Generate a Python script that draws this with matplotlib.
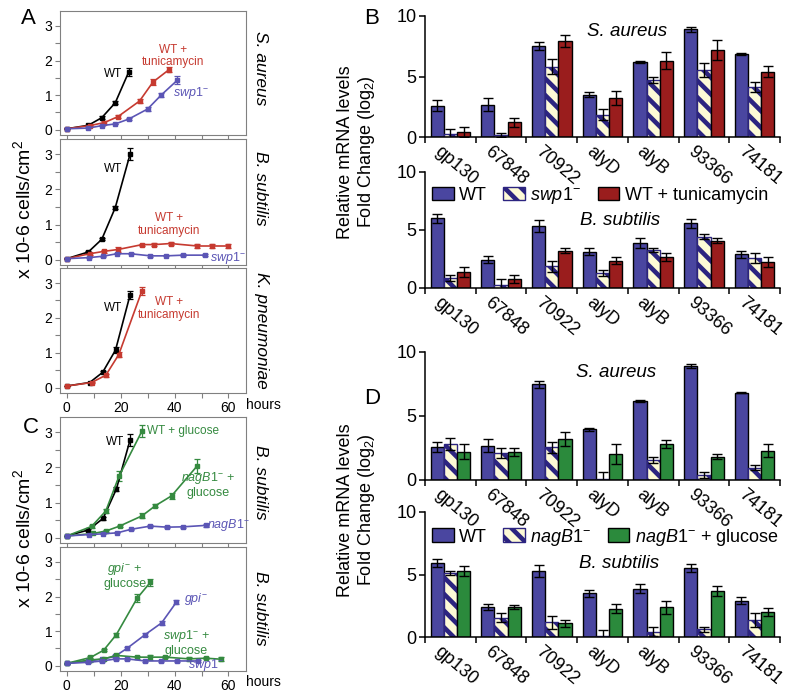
import matplotlib
matplotlib.use("Agg")
import matplotlib.pyplot as plt
import numpy as np

plt.rcParams["font.family"] = ["Liberation Sans", "DejaVu Sans"]
plt.rcParams["mathtext.fontset"] = "custom"
plt.rcParams["mathtext.rm"] = "Liberation Sans"
plt.rcParams["mathtext.it"] = "Liberation Sans:italic"
plt.rcParams["hatch.linewidth"] = 3.3

# ---- growth curves (hours, x 10-6 cells/cm2) ----
sa_wt_t = [0, 8, 13, 18, 23]
sa_wt = [0.03, 0.13, 0.35, 0.78, 1.67]
sa_wt_e = [0.01, 0.02, 0.04, 0.04, 0.12]
sa_tun_t = [0, 8.5, 14, 19, 27, 32, 38]
sa_tun = [0.03, 0.12, 0.21, 0.38, 0.83, 1.38, 1.74]
sa_tun_e = [0.01, 0.02, 0.03, 0.05, 0.05, 0.1, 0.06]
sa_swp_t = [0, 8, 13, 18, 23, 30, 35, 41]
sa_swp = [0.03, 0.05, 0.12, 0.17, 0.31, 0.6, 1.0, 1.43]
sa_swp_e = [0.01, 0.01, 0.01, 0.01, 0.03, 0.05, 0.06, 0.12]

bs_wt_t = [0, 8, 13, 18, 23.5]
bs_wt = [0.03, 0.22, 0.58, 1.48, 3.0]
bs_wt_e = [0.01, 0.02, 0.03, 0.05, 0.18]
bs_tun_t = [0, 8.5, 14, 19, 28, 32.5, 38.5, 48.5, 54, 60]
bs_tun = [0.03, 0.17, 0.24, 0.29, 0.43, 0.43, 0.46, 0.39, 0.39, 0.39]
bs_tun_e = [0.01, 0.03, 0.04, 0.08, 0.03, 0.05, 0.04, 0.07, 0.06, 0.07]
bs_swp_t = [0, 8.3, 13.5, 18.6, 23.7, 31, 37, 43.2, 51.2]
bs_swp = [0.03, 0.06, 0.1, 0.17, 0.17, 0.11, 0.11, 0.13, 0.13]
bs_swp_e = [0.01, 0.01, 0.01, 0.02, 0.02, 0.02, 0.01, 0.02, 0.02]

kp_wt_t = [0, 8.5, 13.3, 18.1, 23.5]
kp_wt = [0.05, 0.15, 0.44, 1.08, 2.66]
kp_wt_e = [0.01, 0.02, 0.03, 0.08, 0.12]
kp_tun_t = [0, 9.2, 14.5, 19.3, 27.9]
kp_tun = [0.05, 0.15, 0.36, 0.95, 2.78]
kp_tun_e = [0.01, 0.02, 0.04, 0.08, 0.12]

c_wt_t = [0, 8, 13.5, 18.4, 23.5]
c_wt = [0.05, 0.22, 0.55, 1.38, 2.78]
c_wt_e = [0.01, 0.02, 0.04, 0.05, 0.18]
c_wtg_t = [0, 9.2, 14.5, 19.4, 27.9]
c_wtg = [0.05, 0.32, 0.76, 1.75, 3.03]
c_wtg_e = [0.01, 0.03, 0.06, 0.15, 0.18]
c_nagg_t = [0, 9.8, 14.5, 19.6, 27.9, 32.9, 38.9, 48.5]
c_nagg = [0.05, 0.12, 0.19, 0.33, 0.62, 0.91, 1.19, 2.05]
c_nagg_e = [0.01, 0.01, 0.02, 0.02, 0.07, 0.04, 0.08, 0.2]
c_nag_t = [0, 8.3, 13.5, 18.8, 23.9, 31, 37.2, 43.3, 51.5]
c_nag = [0.05, 0.09, 0.11, 0.14, 0.24, 0.33, 0.3, 0.31, 0.35]
c_nag_e = [0.01, 0.01, 0.01, 0.01, 0.02, 0.02, 0.02, 0.02, 0.05]

gpig_t = [0, 8.8, 13.7, 18.4, 26.1, 31]
gpig = [0.07, 0.24, 0.45, 0.9, 1.95, 2.41]
gpig_e = [0.01, 0.03, 0.03, 0.06, 0.12, 0.1]
gpi_t = [0, 8, 13.1, 17.8, 22.3, 29.1, 35.2, 40.7]
gpi = [0.07, 0.14, 0.19, 0.27, 0.5, 0.9, 1.24, 1.84]
gpi_e = [0.01, 0.02, 0.02, 0.03, 0.04, 0.05, 0.06, 0.06]
swpg_t = [0, 8.8, 13.7, 18.4, 26, 31, 36.5, 45.4, 51.5, 57.3]
swpg = [0.07, 0.17, 0.2, 0.3, 0.25, 0.25, 0.25, 0.2, 0.22, 0.19]
swpg_e = [0.01, 0.05, 0.03, 0.05, 0.04, 0.07, 0.03, 0.06, 0.02, 0.06]
swp_t = [0, 8, 13.1, 18.4, 22.3, 29.1, 34.9, 40.8, 48.7]
swp = [0.07, 0.1, 0.14, 0.2, 0.2, 0.14, 0.14, 0.14, 0.14]
swp_e = [0.01, 0.02, 0.02, 0.02, 0.02, 0.02, 0.02, 0.02, 0.02]

# ---- qPCR bars (log2 fold change) ----
genes = ["gp130", "67848", "70922", "alyD", "alyB", "93366", "74181"]

b_sa_wt = [2.58, 2.66, 7.53, 3.49, 6.21, 8.9, 6.84]
b_sa_wt_e = [0.44, 0.55, 0.3, 0.2, 0.1, 0.2, 0.08]
b_sa_swp = [0.25, 0.15, 5.82, 1.84, 4.73, 5.55, 4.12]
b_sa_swp_e = [0.4, 0.15, 0.63, 0.47, 0.27, 0.6, 0.41]
b_sa_tun = [0.38, 1.21, 7.94, 3.21, 6.32, 7.2, 5.41]
b_sa_tun_e = [0.41, 0.36, 0.5, 0.6, 0.69, 0.82, 0.47]

b_bs_wt = [6.0, 2.43, 5.34, 3.14, 3.91, 5.57, 2.91]
b_bs_wt_e = [0.37, 0.29, 0.51, 0.29, 0.43, 0.4, 0.31]
b_bs_swp = [0.86, 0.25, 1.86, 1.29, 3.29, 4.43, 2.57]
b_bs_swp_e = [0.29, 0.55, 0.49, 0.29, 0.2, 0.2, 0.43]
b_bs_tun = [1.37, 0.77, 3.23, 2.34, 2.66, 4.09, 2.2]
b_bs_tun_e = [0.43, 0.34, 0.2, 0.29, 0.34, 0.2, 0.43]

d_sa_wt = [2.6, 2.68, 7.47, 3.96, 6.17, 8.9, 6.82]
d_sa_wt_e = [0.39, 0.52, 0.29, 0.13, 0.08, 0.16, 0.05]
d_sa_nag = [2.81, 2.14, 2.55, 0.05, 1.56, 0.39, 0.96]
d_sa_nag_e = [0.49, 0.39, 0.44, 0.55, 0.26, 0.2, 0.21]
d_sa_glc = [2.21, 2.21, 3.2, 2.03, 2.81, 1.82, 2.29]
d_sa_glc_e = [0.57, 0.31, 0.57, 0.78, 0.31, 0.18, 0.52]

d_bs_wt = [5.91, 2.4, 5.31, 3.49, 3.88, 5.52, 2.92]
d_bs_wt_e = [0.34, 0.26, 0.47, 0.29, 0.39, 0.34, 0.26]
d_bs_nag = [5.13, 1.56, 1.17, 0.1, 0.44, 0.62, 1.35]
d_bs_nag_e = [0.13, 0.36, 0.49, 0.5, 0.39, 0.21, 0.57]
d_bs_glc = [5.31, 2.4, 1.09, 2.27, 2.4, 3.7, 2.0]
d_bs_glc_e = [0.39, 0.18, 0.31, 0.34, 0.52, 0.39, 0.31]

BLUE = "#4a46a0"
RED = "#9a1d1d"
GREEN = "#2b8a3c"
CREAM = "#fdfad6"
NAVY = "#2c2480"
L_RED = "#c63a30"
L_BLUE = "#5b55b5"
L_GREEN = "#358a40"
GRAY = "#808080"

W, H = 800, 697
fig = plt.figure(figsize=(8, 6.97), dpi=100)


def px_rect(left, top, right, bottom):
    return [left / W, 1 - bottom / H, (right - left) / W, (bottom - top) / H]


def growth_axes(top, bottom, xlabels):
    ax = fig.add_axes(px_rect(60, top, 246, bottom))
    ax.set_xlim(-2.5, 66.5)
    ax.set_ylim(-0.15, 3.43)
    ax.set_yticks([0, 1, 2, 3])
    ax.set_yticks([0.5, 1.5, 2.5], minor=True)
    ax.set_xticks(range(0, 70, 10))
    if xlabels:
        ax.set_xticklabels(["0", "", "20", "", "40", "", "60"])
    else:
        ax.set_xticklabels([])
    for s in ax.spines.values():
        s.set_color(GRAY)
        s.set_linewidth(0.8)
    ax.tick_params(which="both", direction="out", width=0.8, color=GRAY,
                   labelsize=10, pad=2, length=3.5)
    return ax


def curve(ax, t, y, e, color):
    ax.errorbar(t, y, yerr=e, color=color, lw=1.2, marker="s", ms=2.5,
                capsize=2, elinewidth=0.9, capthick=0.9)


def side_label(text, yc):
    fig.text(261 / W, 1 - yc / H, text, rotation=-90, style="italic",
             fontsize=12.5, ha="center", va="center")


# panel A
ax = growth_axes(11, 135, False)
curve(ax, sa_wt_t, sa_wt, sa_wt_e, "black")
curve(ax, sa_tun_t, sa_tun, sa_tun_e, L_RED)
curve(ax, sa_swp_t, sa_swp, sa_swp_e, L_BLUE)
ax.text(20.5, 1.62, "WT", fontsize=8.5, ha="right", va="center")
ax.text(39.5, 2.13, "WT +\ntunicamycin", color=L_RED, fontsize=8.5,
        ha="center", va="center", linespacing=1.1)
ax.text(39.5, 1.07, r"$\it{swp1}^{-}$", color=L_BLUE, fontsize=9,
        ha="left", va="center")
side_label("S. aureus", 68)

ax = growth_axes(139, 265, False)
curve(ax, bs_wt_t, bs_wt, bs_wt_e, "black")
curve(ax, bs_tun_t, bs_tun, bs_tun_e, L_RED)
curve(ax, bs_swp_t, bs_swp, bs_swp_e, L_BLUE)
ax.text(20.5, 2.57, "WT", fontsize=8.5, ha="right", va="center")
ax.text(38, 1.0, "WT +\ntunicamycin", color=L_RED, fontsize=8.5,
        ha="center", va="center", linespacing=1.1)
ax.text(53, 0.05, r"$\it{swp1}^{-}$", color=L_BLUE, fontsize=9,
        ha="left", va="center")
side_label("B. subtilis", 188)

ax = growth_axes(268, 393, True)
curve(ax, kp_wt_t, kp_wt, kp_wt_e, "black")
curve(ax, kp_tun_t, kp_tun, kp_tun_e, L_RED)
ax.text(20.5, 2.28, "WT", fontsize=8.5, ha="right", va="center")
ax.text(38, 2.28, "WT +\ntunicamycin", color=L_RED, fontsize=8.5,
        ha="center", va="center", linespacing=1.1)
side_label("K. pneumoniae", 330)
fig.text(263 / W, 1 - 405 / H, "hours", fontsize=10, ha="center", va="center")

# panel C
ax = growth_axes(417, 543, False)
curve(ax, c_wt_t, c_wt, c_wt_e, "black")
curve(ax, c_wtg_t, c_wtg, c_wtg_e, L_GREEN)
curve(ax, c_nagg_t, c_nagg, c_nagg_e, L_GREEN)
curve(ax, c_nag_t, c_nag, c_nag_e, L_BLUE)
ax.text(21.5, 2.73, "WT", fontsize=8.5, ha="right", va="center")
ax.text(29.8, 3.02, "WT + glucose", color=L_GREEN, fontsize=8.5,
        ha="left", va="center")
ax.text(52.5, 1.52, r"$\it{nagB1}^{-}$ +" + "\nglucose", color=L_GREEN,
        fontsize=9, ha="center", va="center", linespacing=1.1)
ax.text(52.1, 0.35, r"$\it{nagB1}^{-}$", color=L_BLUE, fontsize=9,
        ha="left", va="center")
side_label("B. subtilis", 482)

ax = growth_axes(547, 671, True)
curve(ax, gpig_t, gpig, gpig_e, L_GREEN)
curve(ax, gpi_t, gpi, gpi_e, L_BLUE)
curve(ax, swpg_t, swpg, swpg_e, L_GREEN)
curve(ax, swp_t, swp, swp_e, L_BLUE)
ax.text(21.5, 2.62, r"$\it{gpi}^{-}$ +" + "\nglucose", color=L_GREEN,
        fontsize=9, ha="center", va="center", linespacing=1.1)
ax.text(43.5, 1.92, r"$\it{gpi}^{-}$", color=L_BLUE, fontsize=9,
        ha="left", va="center")
ax.text(44.4, 0.68, r"$\it{swp1}^{-}$ +" + "\nglucose", color=L_GREEN,
        fontsize=9, ha="center", va="center", linespacing=1.1)
ax.text(45, 0.02, r"$\it{swp1}^{-}$", color=L_BLUE, fontsize=9,
        ha="left", va="center")
side_label("B. subtilis", 608)
fig.text(263 / W, 1 - 682 / H, "hours", fontsize=10, ha="center", va="center")

for yc in (209, 538):
    fig.text(23 / W, 1 - yc / H, "x 10-6 cells/cm$^2$", rotation=90,
             fontsize=14, ha="center", va="center")


# bar panels
def bar_axes(top, bottom, series, errs, third_color, mid_label, third_label,
             species, sx, sy, legend_y=None):
    ax = fig.add_axes(px_rect(425, top, 780, bottom))
    ax.patch.set_visible(False)
    x = np.arange(len(genes))
    w = 0.26
    styles = [
        dict(color=BLUE, edgecolor="black", label="WT"),
        dict(color=CREAM, edgecolor=NAVY, hatch="\\\\", label=mid_label),
        dict(color=third_color, edgecolor="black", label=third_label),
    ]
    bars = []
    for k in range(3):
        b = ax.bar(x + (k - 1) * w, series[k], w, linewidth=1, **styles[k])
        bars.append(b)
        ax.errorbar(x + (k - 1) * w, series[k], yerr=errs[k], fmt="none",
                    ecolor="black", elinewidth=1, capsize=3.5, capthick=1)
    ax.set_xlim(-0.5, 6.5)
    ax.set_ylim(0, 10)
    ax.spines["top"].set_visible(False)
    ax.spines["right"].set_visible(False)
    ax.spines["left"].set_linewidth(1.1)
    ax.spines["bottom"].set_linewidth(1.1)
    ax.set_xticks(np.arange(-0.5, 7, 1))
    ax.set_xticklabels([])
    ax.set_yticks([0, 5, 10])
    ax.tick_params(direction="out", length=4, width=1.1, labelsize=13, pad=2)
    for i, g in enumerate(genes):
        ax.text(i - 0.17, -0.05, g, transform=ax.get_xaxis_transform(),
                rotation=-40, rotation_mode="anchor", ha="left", va="top",
                fontsize=13, zorder=5)
    ax.text(sx, sy, species, style="italic", fontsize=13.5, ha="center",
            va="center")
    if legend_y is not None:
        ax.legend(handles=bars, loc="center left", bbox_to_anchor=(0.02, legend_y),
                  ncol=3, frameon=False, fontsize=13, handlelength=1.2,
                  handleheight=0.8, handletextpad=0.3, columnspacing=0.9,
                  borderpad=0, borderaxespad=0)
    return ax


bar_axes(16, 137, [b_sa_wt, b_sa_swp, b_sa_tun],
         [b_sa_wt_e, b_sa_swp_e, b_sa_tun_e], RED,
         r"$\it{swp1}^{-}$", "WT + tunicamycin", "S. aureus", 3.48, 8.7)
bar_axes(172, 288, [b_bs_wt, b_bs_swp, b_bs_tun],
         [b_bs_wt_e, b_bs_swp_e, b_bs_tun_e], RED,
         r"$\it{swp1}^{-}$", "WT + tunicamycin", "B. subtilis", 3.35, 5.78,
         legend_y=0.80)
bar_axes(352, 480, [d_sa_wt, d_sa_nag, d_sa_glc],
         [d_sa_wt_e, d_sa_nag_e, d_sa_glc_e], GREEN,
         r"$\it{nagB1}^{-}$", r"$\it{nagB1}^{-}$ + glucose", "S. aureus", 3.27, 8.4)
bar_axes(512, 637, [d_bs_wt, d_bs_nag, d_bs_glc],
         [d_bs_wt_e, d_bs_nag_e, d_bs_glc_e], GREEN,
         r"$\it{nagB1}^{-}$", r"$\it{nagB1}^{-}$ + glucose", "B. subtilis", 3.33, 5.9,
         legend_y=0.80)

for yc in (152, 510):
    fig.text(357 / W, 1 - yc / H, "Relative mRNA levels\nFold Change (log$_2$)",
             rotation=90, fontsize=13, ha="center", va="center", linespacing=1.15)

fig.text(28 / W, 1 - 19 / H, "A", fontsize=16, ha="center", va="center")
fig.text(372 / W, 1 - 19 / H, "B", fontsize=16, ha="center", va="center")
fig.text(31 / W, 1 - 428 / H, "C", fontsize=16, ha="center", va="center")
fig.text(372 / W, 1 - 398 / H, "D", fontsize=16, ha="center", va="center")

fig.savefig("out.png", dpi=100)
